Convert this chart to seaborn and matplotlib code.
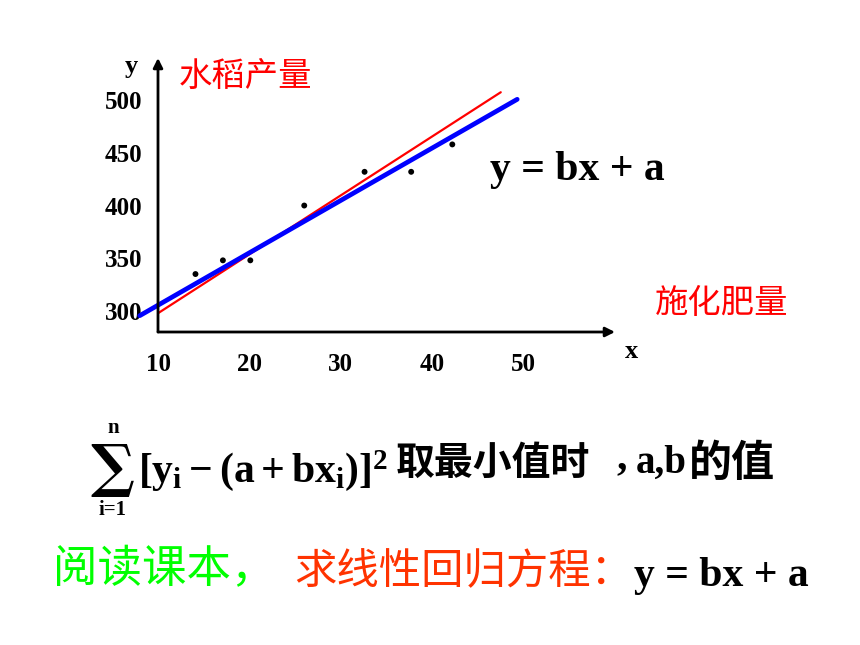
import seaborn as sns
import matplotlib.pyplot as plt

# scatter points: fertilizer (x) vs rice yield (y)
fert = [14.1, 17.1, 20.1, 26.0, 32.6, 37.7, 42.2]
rice = [335, 348, 348, 400, 432, 432, 458]

# two candidate lines (end points)
red_x = [10.0, 47.5]
red_y = [297.8, 507.5]
blue_x = [8.0, 49.3]
blue_y = [295.5, 500.8]

x_ticks = [10, 20, 30, 40, 50]
y_ticks = [300, 350, 400, 450, 500]

sns.set_style("white")
plt.rcParams['font.family'] = ['Noto Sans CJK SC', 'DejaVu Sans']
plt.rcParams['text.color'] = 'black'
plt.rcParams['xtick.color'] = 'black'
plt.rcParams['ytick.color'] = 'black'
plt.rcParams['mathtext.fontset'] = 'custom'
plt.rcParams['mathtext.rm'] = 'Liberation Serif:bold'
plt.rcParams['mathtext.it'] = 'Liberation Serif:bold'
plt.rcParams['mathtext.bf'] = 'Liberation Serif:bold'

W, H = 860, 645
fig = plt.figure(figsize=(8.6, 6.45), dpi=100)
fig.patch.set_facecolor('white')


def px(x, y):
    return x / W, 1 - y / H


ax = fig.add_axes([158 / W, 1 - 332 / H, 457 / W, 274 / H])
ax.set_facecolor('none')

sns.lineplot(x=red_x, y=red_y, color='#ff0000', lw=1.6, ax=ax, clip_on=False)
sns.lineplot(x=blue_x, y=blue_y, color='#0000ff', lw=3.4, ax=ax, clip_on=False)
sns.scatterplot(x=fert, y=rice, color='black', s=18, ax=ax, zorder=3, edgecolor='none')

ax.set_xlim(10, 60)
ax.set_ylim(280, 540)
for s in ax.spines.values():
    s.set_visible(False)

# axes with arrow heads
arrow = dict(arrowstyle='-|>', color='black', lw=2, mutation_scale=14, shrinkA=0, shrinkB=0)
ax.annotate('', xy=(1, 0), xytext=(0, 0), xycoords='axes fraction', arrowprops=arrow)
ax.annotate('', xy=(0, 1), xytext=(0, 0), xycoords='axes fraction', arrowprops=arrow)

serif_bold = dict(family='Liberation Serif', weight='bold')
ax.set_xticks(x_ticks)
ax.set_xticklabels([str(v) for v in x_ticks], fontsize=18, **serif_bold)
ax.set_yticks(y_ticks)
ax.set_yticklabels([str(v) for v in y_ticks], fontsize=18, **serif_bold)
ax.tick_params(axis='x', direction='in', length=6, width=1.5, pad=15, colors='black')
ax.tick_params(axis='y', direction='in', length=5, width=1.5, pad=11, colors='black')
ax.set_xlabel('')
ax.set_ylabel('')

# axis names
fig.text(*px(131, 66), 'y', fontsize=19, ha='center', va='center', **serif_bold)
fig.text(*px(632, 352), 'x', fontsize=19, ha='center', va='center', **serif_bold)
fig.text(*px(179, 76), '水稻产量', fontsize=24, color='#ff0000', ha='left', va='center')
fig.text(*px(655, 304), '施化肥量', fontsize=24, color='#ff0000', ha='left', va='center')

fig.text(*px(490, 170), 'y = bx + a', fontsize=30, ha='left', va='center', **serif_bold)

# least squares expression
fig.text(*px(112, 470), '∑', fontsize=42, ha='center', va='center', family='DejaVu Serif', weight='bold')
fig.text(*px(113, 428), 'n', fontsize=15, ha='center', va='center', **serif_bold)
fig.text(*px(113, 510), 'i=1', fontsize=15, ha='center', va='center', **serif_bold)
fig.text(*px(138, 482), r'$[y_{i}-(a+bx_{i})]^{2}$', fontsize=30, ha='left', va='baseline')
fig.text(*px(396, 463), '取最小值时', fontsize=28, ha='left', va='center', weight='bold')
fig.text(*px(616, 458), ',', fontsize=30, ha='left', va='center', **serif_bold)
fig.text(*px(636, 463), 'a,b', fontsize=28, ha='left', va='center', **serif_bold)
fig.text(*px(689, 463), '的值', fontsize=31, ha='left', va='center', weight='bold')

# bottom line
fig.text(*px(53, 569), '阅读课本，', fontsize=32, color='#00ff00', ha='left', va='center')
fig.text(*px(294, 572), '求线性回归方程：', fontsize=30.5, color='#ff3300', ha='left', va='center')
fig.text(*px(634, 576), 'y = bx + a', fontsize=30, ha='left', va='center', **serif_bold)

fig.savefig('out.png', dpi=100, facecolor='white')
